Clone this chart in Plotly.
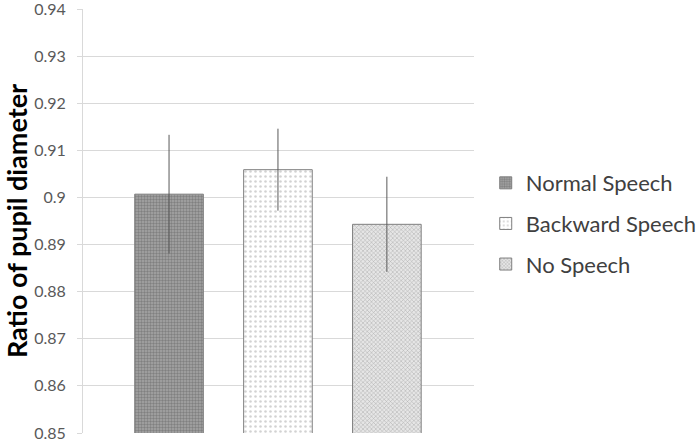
import plotly.graph_objects as go

categories = ["Normal Speech", "Backward Speech", "No Speech"]
values = [0.9007, 0.9059, 0.8943]
errors = [0.0126, 0.0087, 0.0101]
tick_vals = [0.85, 0.86, 0.87, 0.88, 0.89, 0.90, 0.91, 0.92, 0.93, 0.94]
tick_text = ["0.85", "0.86", "0.87", "0.88", "0.89", "0.9", "0.91", "0.92", "0.93", "0.94"]

styles = [
    dict(bg="#a6a6a6", fg="#595959", shape=".", size=3, solidity=0.5),
    dict(bg="#ffffff", fg="#a6a6a6", shape=".", size=5, solidity=0.2),
    dict(bg="#e6e6e6", fg="#6e6e6e", shape="x", size=3, solidity=0.3),
]

fig = go.Figure()
for i, (cat, v, e, s) in enumerate(zip(categories, values, errors, styles)):
    fig.add_trace(go.Bar(
        x=[i], y=[v], name=cat, legendgroup=cat,
        width=0.63, base=0,
        marker=dict(color=s["bg"], line=dict(color="#7f7f7f", width=1),
                    pattern=dict(shape=s["shape"], fgcolor=s["fg"], bgcolor=s["bg"],
                                 size=s["size"], solidity=s["solidity"])),
        error_y=dict(type="data", array=[e], visible=True, color="#595959",
                     thickness=1, width=0),
    ))

fig.update_layout(
    width=700, height=443,
    margin=dict(l=83, r=226, t=9, b=10, autoexpand=False),
    paper_bgcolor="white", plot_bgcolor="white",
    font=dict(family="Lato, Open Sans, sans-serif", color="#595959"),
    showlegend=True,
    legend=dict(x=1.03, y=0.494, xanchor="left", yanchor="middle",
                font=dict(size=22, color="#404040"), tracegroupgap=9,
                bgcolor="rgba(0,0,0,0)"),
)
fig.update_xaxes(range=[-0.79, 2.8], showticklabels=False, showgrid=False,
                 zeroline=False, showline=False, ticks="", automargin=False)
fig.update_yaxes(range=[0.85, 0.94001], tickvals=tick_vals, ticktext=tick_text,
                 showgrid=True, gridcolor="#d9d9d9", gridwidth=1,
                 showline=True, linecolor="#d9d9d9", linewidth=1,
                 ticks="outside", ticklen=5, tickcolor="#d9d9d9",
                 ticklabelstandoff=8, automargin=False, ticklabeloverflow="allow",
                 tickfont=dict(size=16, color="#595959"), zeroline=False,
                 title=dict(text="<b>Ratio of pupil diameter</b>",
                            font=dict(size=27, color="#000000"), standoff=6))

fig.write_html("out.html", config={"displayModeBar": False},
               post_script="document.body.style.margin='0';document.body.style.overflow='hidden';")
